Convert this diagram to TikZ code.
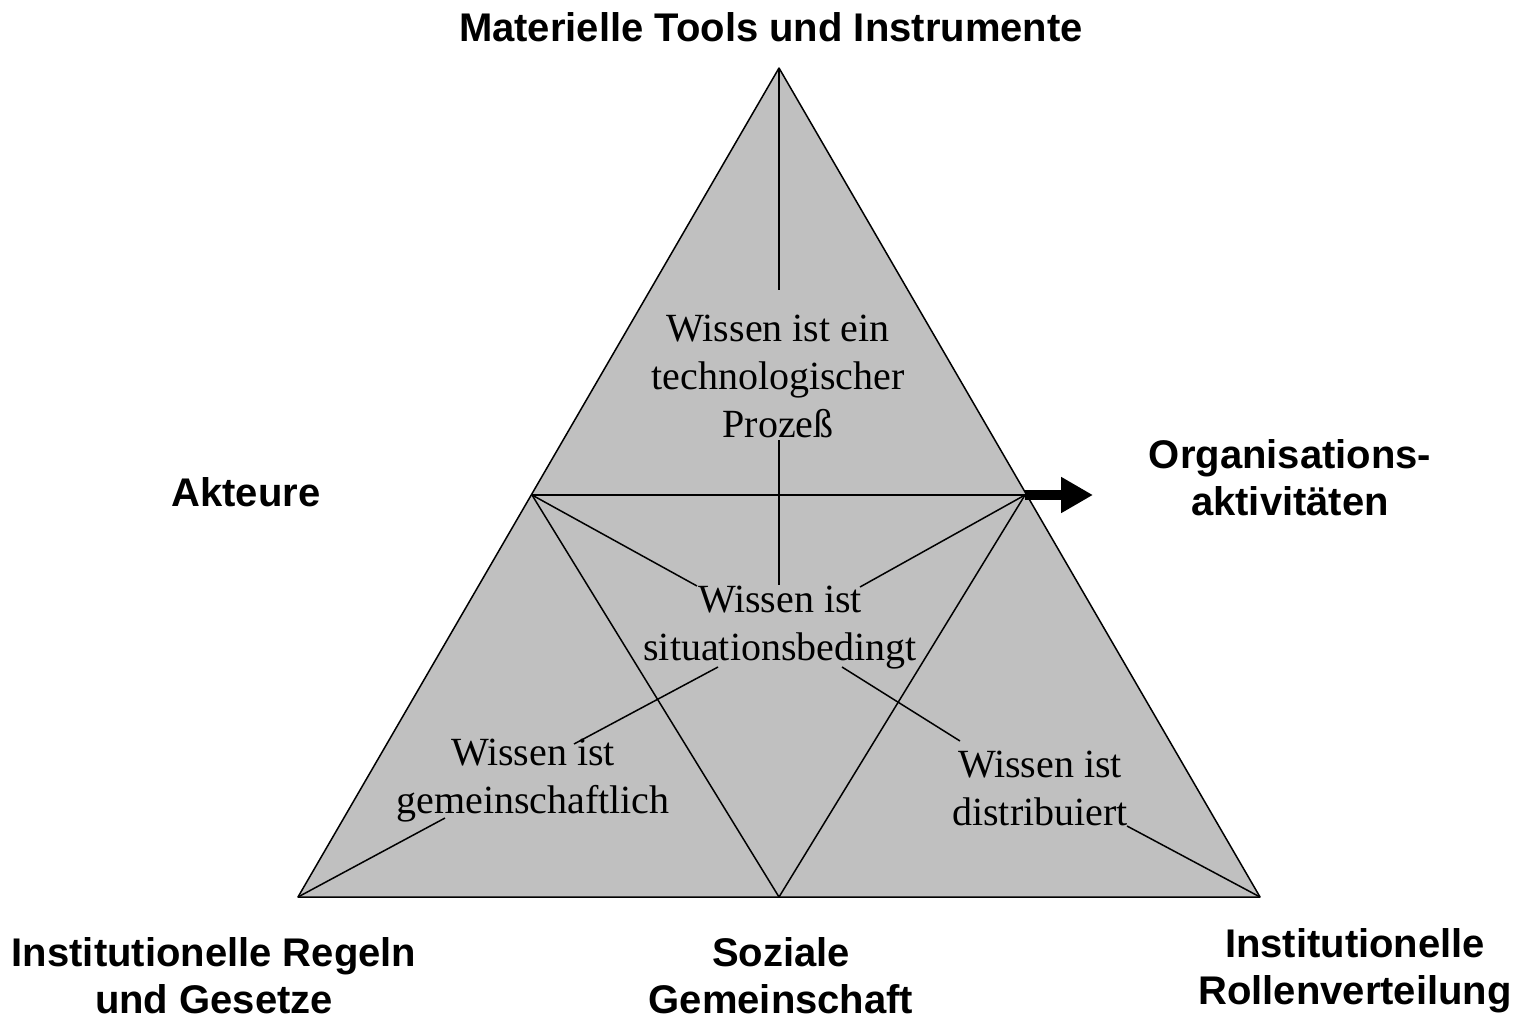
\documentclass[tikz,border=0pt]{standalone}
\usepackage{fontspec}
\setmainfont{Liberation Serif}
\newfontfamily\labfont{Liberation Sans}
\usetikzlibrary{arrows.meta}
\begin{document}
\begin{tikzpicture}[x=1pt,y=-1pt,
  edge/.style={line width=1.5pt, line join=round},
  lab/.style={font=\labfont\bfseries\fontsize{40}{47}\selectfont, align=center, inner sep=0pt},
  wis/.style={font=\fontsize{40}{48}\selectfont, align=center, inner sep=0pt}]
\useasboundingbox (0,0) rectangle (1523,1020);
\coordinate (A) at (779,68);
\coordinate (BL) at (298,897);
\coordinate (BR) at (1260,897);
\coordinate (ML) at (532,495);
\coordinate (MR) at (1025,495);
\coordinate (BM) at (779,897);
\fill[fill={rgb,255:red,192;green,192;blue,192}] (A) -- (BL) -- (BR) -- cycle;
\draw[edge] (A) -- (BL) -- (BR) -- cycle;
\draw[edge] (ML) -- (MR);
\draw[edge] (ML) -- (BM) -- (MR);
% text nodes
\node[wis] (tech) at (778,376) {Wissen ist ein\\technologischer\\Prozeß};
\node[wis] (sit) at (780,628) {Wissen ist\\situationsbedingt};
\node[wis] (gem) at (533,781) {Wissen ist\\gemeinschaftlich};
\node[wis] (dis) at (1040,788) {Wissen ist\\distribuiert};
% connector endpoints
\coordinate (t1) at (779,290);
\coordinate (t2) at (779,440);
\coordinate (s0) at (779,585);
\coordinate (s1) at (697,586);
\coordinate (s2) at (860,587);
\coordinate (s3) at (718,667);
\coordinate (s4) at (842,667);
\coordinate (g1) at (574,744);
\coordinate (g2) at (445,818);
\coordinate (d1) at (960,741);
\coordinate (d2) at (1127,826);
\draw[edge] (A) -- (t1);
\draw[edge] (t2) -- (s0);
\draw[edge] (ML) -- (s1);
\draw[edge] (MR) -- (s2);
\draw[edge] (s3) -- (g1);
\draw[edge] (s4) -- (d1);
\draw[edge] (BL) -- (g2);
\draw[edge] (BR) -- (d2);
% arrow
\coordinate (arr) at (1093,495);
\draw[line width=10pt, -{Triangle[length=32pt,width=34pt]}] (MR) -- (arr);
% labels
\node[lab] (mat) at (771,27) {Materielle Tools und Instrumente};
\node[lab] (akt) at (246,492) {Akteure};
\node[lab] (org) at (1290,478) {Organisations-\\aktivitäten};
\node[lab] (reg) at (214,976) {Institutionelle Regeln\\und Gesetze};
\node[lab] (soz) at (781,976) {Soziale\\Gemeinschaft};
\node[lab] (rol) at (1355,971) {Institutionelle\\Rollenverteilung};
\end{tikzpicture}
\end{document}
